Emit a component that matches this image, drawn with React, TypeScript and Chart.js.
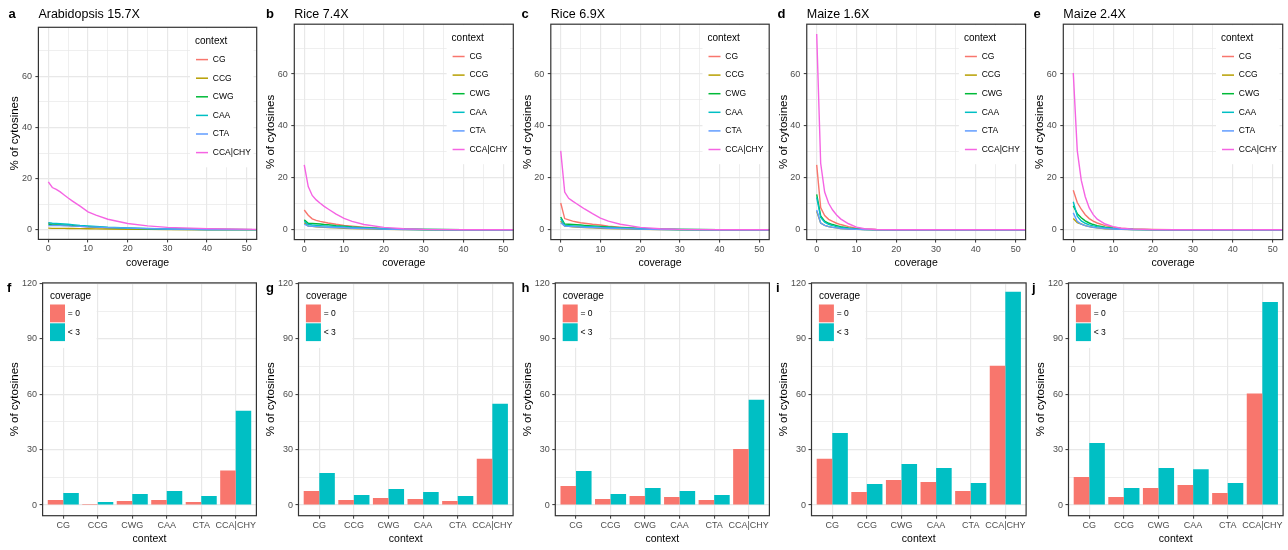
import React, { useEffect, useRef } from "react";
import { Chart, registerables } from "chart.js";

Chart.register(...registerables);

const FONT = '"Liberation Sans", Arial, Helvetica, sans-serif';

// Sequence contexts and their colours (ggplot default hue palette)
const contexts = ["CG", "CCG", "CWG", "CAA", "CTA", "CCA|CHY"];
const contextColors = ["#F8766D", "#B79F00", "#00BA38", "#00BFC4", "#619CFF", "#F564E3"];

// Bar groups
const coverageGroups = ["= 0", "< 3"];
const coverageColors = ["#F8766D", "#00BFC4"];

// Coverage values at which each curve is sampled
const coverage = [0, 1, 2, 3, 4, 5, 6, 8, 10, 12, 15, 20, 25, 30, 40, 55];

// Axis ticks
const coverageMajorTicks = [0, 10, 20, 30, 40, 50];
const coverageMinorTicks = [5, 15, 25, 35, 45];
const lineMajorTicks = [0, 20, 40, 60];
const lineMinorTicks = [10, 30, 50, 70];
const barMajorTicks = [0, 30, 60, 90, 120];
const barMinorTicks = [15, 45, 75, 105];

// a: Arabidopsis 15.7X — % of cytosines by coverage
const araCG = [2.7, 1.9, 1.9, 1.8, 1.7, 1.6, 1.5, 1.3, 1.1, 0.9, 0.7, 0.5, 0.3, 0.2, 0.1, 0];
const araCCG = [0.6, 0.5, 0.5, 0.5, 0.5, 0.45, 0.45, 0.4, 0.35, 0.3, 0.25, 0.2, 0.15, 0.1, 0.05, 0];
const araCWG = [2.2, 1.9, 1.9, 1.9, 1.8, 1.7, 1.6, 1.4, 1.2, 1.0, 0.8, 0.5, 0.35, 0.2, 0.1, 0];
const araCAA = [2.7, 2.5, 2.4, 2.3, 2.2, 2.1, 2.0, 1.7, 1.5, 1.3, 1.0, 0.7, 0.45, 0.3, 0.1, 0];
const araCTA = [1.6, 1.7, 1.6, 1.6, 1.5, 1.5, 1.4, 1.3, 1.1, 1.0, 0.8, 0.6, 0.4, 0.25, 0.1, 0];
const araCHY = [18.7, 16.5, 15.8, 14.8, 13.6, 12.4, 11.3, 9.2, 7.0, 5.7, 4.1, 2.4, 1.5, 0.9, 0.4, 0.05];

// b: Rice 7.4X
const rice74CG = [7.6, 5.6, 4.2, 3.6, 3.2, 2.9, 2.6, 2.1, 1.7, 1.4, 1.0, 0.5, 0.25, 0.1, 0.02, 0];
const rice74CCG = [2.7, 1.4, 1.3, 1.1, 1.0, 0.9, 0.8, 0.7, 0.6, 0.5, 0.35, 0.2, 0.1, 0.05, 0, 0];
const rice74CWG = [3.8, 2.5, 2.4, 2.3, 2.2, 2.0, 1.9, 1.6, 1.4, 1.1, 0.8, 0.4, 0.2, 0.1, 0, 0];
const rice74CAA = [3.3, 2.0, 1.8, 1.7, 1.6, 1.5, 1.4, 1.3, 1.1, 0.9, 0.7, 0.4, 0.2, 0.1, 0, 0];
const rice74CTA = [2.2, 1.4, 1.3, 1.2, 1.1, 1.0, 0.95, 0.85, 0.75, 0.6, 0.45, 0.25, 0.1, 0.05, 0, 0];
const rice74CHY = [25.0, 16.6, 13.2, 11.5, 10.2, 9.0, 8.0, 6.0, 4.4, 3.2, 2.0, 0.9, 0.4, 0.15, 0.02, 0];

// c: Rice 6.9X
const rice69CG = [10.3, 4.3, 3.8, 3.3, 3.0, 2.7, 2.5, 2.1, 1.8, 1.4, 1.0, 0.5, 0.25, 0.1, 0.02, 0];
const rice69CCG = [3.3, 1.4, 1.3, 1.1, 1.0, 0.9, 0.8, 0.7, 0.6, 0.5, 0.35, 0.2, 0.1, 0.05, 0, 0];
const rice69CWG = [4.9, 2.2, 2.1, 2.0, 1.9, 1.8, 1.7, 1.5, 1.3, 1.1, 0.8, 0.45, 0.2, 0.1, 0, 0];
const rice69CAA = [4.3, 1.7, 1.6, 1.5, 1.4, 1.4, 1.3, 1.2, 1.0, 0.9, 0.7, 0.4, 0.2, 0.1, 0, 0];
const rice69CTA = [2.7, 1.4, 1.3, 1.2, 1.1, 1.0, 0.95, 0.85, 0.75, 0.6, 0.45, 0.25, 0.1, 0.05, 0, 0];
const rice69CHY = [30.4, 14.5, 12.1, 11.0, 10.0, 9.0, 8.0, 6.2, 4.5, 3.3, 2.1, 0.9, 0.4, 0.15, 0.02, 0];

// d: Maize 1.6X
const maize16CG = [25.0, 8.5, 5.5, 4.0, 3.2, 2.5, 2.0, 1.2, 0.6, 0.3, 0.1, 0, 0, 0, 0, 0];
const maize16CCG = [7.1, 2.6, 1.7, 1.2, 0.9, 0.7, 0.5, 0.3, 0.15, 0.08, 0.02, 0, 0, 0, 0, 0];
const maize16CWG = [13.6, 5.3, 3.3, 2.5, 2.0, 1.6, 1.2, 0.7, 0.35, 0.15, 0.05, 0, 0, 0, 0, 0];
const maize16CAA = [12.5, 4.7, 2.9, 2.1, 1.6, 1.2, 0.9, 0.5, 0.25, 0.1, 0.03, 0, 0, 0, 0, 0];
const maize16CTA = [7.6, 2.6, 1.7, 1.2, 0.9, 0.7, 0.5, 0.3, 0.15, 0.08, 0.02, 0, 0, 0, 0, 0];
const maize16CHY = [75.4, 25.6, 14.5, 10.2, 7.6, 5.7, 4.2, 2.3, 1.0, 0.4, 0.1, 0, 0, 0, 0, 0];

// e: Maize 2.4X
const maize24CG = [15.2, 10.5, 7.9, 5.8, 4.3, 3.3, 2.6, 1.6, 1.0, 0.6, 0.3, 0.08, 0.02, 0, 0, 0];
const maize24CCG = [4.3, 2.7, 2.2, 1.6, 1.2, 0.9, 0.7, 0.4, 0.25, 0.15, 0.07, 0.02, 0, 0, 0, 0];
const maize24CWG = [9.2, 6.2, 4.6, 3.4, 2.6, 2.0, 1.6, 1.0, 0.6, 0.35, 0.15, 0.04, 0, 0, 0, 0];
const maize24CAA = [10.8, 5.2, 3.4, 2.5, 1.9, 1.5, 1.2, 0.8, 0.5, 0.3, 0.12, 0.03, 0, 0, 0, 0];
const maize24CTA = [6.5, 3.2, 2.2, 1.6, 1.2, 0.9, 0.7, 0.45, 0.3, 0.18, 0.08, 0.02, 0, 0, 0, 0];
const maize24CHY = [60.4, 30.5, 19.1, 12.7, 8.4, 5.8, 4.1, 2.2, 1.2, 0.6, 0.25, 0.05, 0.01, 0, 0, 0];

// f–j: % of cytosines with coverage = 0 and < 3, per context
const araZero = [2.7, 0.6, 2.2, 2.7, 1.6, 18.7];
const araBelow3 = [6.5, 1.6, 6.0, 7.6, 4.9, 51.0];
const rice74Zero = [7.6, 2.7, 3.8, 3.3, 2.2, 25.0];
const rice74Below3 = [17.4, 5.4, 8.7, 7.1, 4.9, 54.8];
const rice69Zero = [10.3, 3.3, 4.9, 4.3, 2.7, 30.4];
const rice69Below3 = [18.4, 6.0, 9.2, 7.6, 5.4, 57.0];
const maize16Zero = [25.0, 7.1, 13.6, 12.5, 7.6, 75.4];
const maize16Below3 = [39.0, 11.4, 22.2, 20.1, 11.9, 115.5];
const maize24Zero = [15.2, 4.3, 9.2, 10.8, 6.5, 60.4];
const maize24Below3 = [33.6, 9.2, 20.0, 19.4, 11.9, 110.0];

type Box = { x: number; y: number; w: number; h: number };
type Plot = { L: number; R: number; T: number; B: number };

type LinePanel = {
  kind: "line";
  letter: string;
  title: string;
  letterX: number;
  box: Box;
  plot: Plot;
  series: number[][];
};

type BarPanel = {
  kind: "bar";
  letter: string;
  letterX: number;
  box: Box;
  plot: Plot;
  zero: number[];
  below3: number[];
};

const linePanels: LinePanel[] = [
  {
    kind: "line", letter: "a", title: "Arabidopsis 15.7X", letterX: 8.5,
    box: { x: 4, y: 0, w: 254, h: 275 }, plot: { L: 38.4, R: 256.7, T: 27.3, B: 239.4 },
    series: [araCG, araCCG, araCWG, araCAA, araCTA, araCHY],
  },
  {
    kind: "line", letter: "b", title: "Rice 7.4X", letterX: 266,
    box: { x: 260, y: 0, w: 255, h: 275 }, plot: { L: 294.3, R: 513.3, T: 24.2, B: 239.6 },
    series: [rice74CG, rice74CCG, rice74CWG, rice74CAA, rice74CTA, rice74CHY],
  },
  {
    kind: "line", letter: "c", title: "Rice 6.9X", letterX: 521.5,
    box: { x: 517, y: 0, w: 254, h: 275 }, plot: { L: 550.8, R: 769.2, T: 24.2, B: 239.6 },
    series: [rice69CG, rice69CCG, rice69CWG, rice69CAA, rice69CTA, rice69CHY],
  },
  {
    kind: "line", letter: "d", title: "Maize 1.6X", letterX: 777.5,
    box: { x: 773, y: 0, w: 254, h: 275 }, plot: { L: 806.75, R: 1025.6, T: 24.2, B: 239.6 },
    series: [maize16CG, maize16CCG, maize16CWG, maize16CAA, maize16CTA, maize16CHY],
  },
  {
    kind: "line", letter: "e", title: "Maize 2.4X", letterX: 1033.5,
    box: { x: 1029, y: 0, w: 255, h: 275 }, plot: { L: 1063.3, R: 1282.7, T: 24.2, B: 239.6 },
    series: [maize24CG, maize24CCG, maize24CWG, maize24CAA, maize24CTA, maize24CHY],
  },
];

const barPanels: BarPanel[] = [
  {
    kind: "bar", letter: "f", letterX: 7,
    box: { x: 4, y: 275, w: 254, h: 275 }, plot: { L: 42.6, R: 256.4, T: 281.7, B: 515.7 },
    zero: araZero, below3: araBelow3,
  },
  {
    kind: "bar", letter: "g", letterX: 266,
    box: { x: 260, y: 275, w: 255, h: 275 }, plot: { L: 298.5, R: 513.1, T: 281.7, B: 515.7 },
    zero: rice74Zero, below3: rice74Below3,
  },
  {
    kind: "bar", letter: "h", letterX: 521.5,
    box: { x: 517, y: 275, w: 254, h: 275 }, plot: { L: 555.3, R: 769.4, T: 281.7, B: 515.7 },
    zero: rice69Zero, below3: rice69Below3,
  },
  {
    kind: "bar", letter: "i", letterX: 776,
    box: { x: 773, y: 275, w: 255, h: 275 }, plot: { L: 811.5, R: 1026.1, T: 281.7, B: 515.7 },
    zero: maize16Zero, below3: maize16Below3,
  },
  {
    kind: "bar", letter: "j", letterX: 1032,
    box: { x: 1029, y: 275, w: 256, h: 275 }, plot: { L: 1068.5, R: 1283.1, T: 281.7, B: 515.7 },
    zero: maize24Zero, below3: maize24Below3,
  },
];

// Panel border and the in-panel legends
const framePlugin = {
  id: "frame",
  afterDraw(chart: any, _args: any, opts: any) {
    const { ctx, chartArea: a } = chart;
    ctx.save();
    if (opts.kind === "line") {
      ctx.fillStyle = "#FFFFFF";
      ctx.fillRect(a.right - 66.7, a.top + 1, 63.5, 139);
      ctx.textBaseline = "middle";
      ctx.textAlign = "left";
      ctx.fillStyle = "#000000";
      ctx.font = `10px ${FONT}`;
      ctx.fillText("context", a.right - 61.7, a.top + 14);
      ctx.font = `8.5px ${FONT}`;
      contexts.forEach((label, i) => {
        const y = a.top + 32.3 + i * 18.6;
        ctx.strokeStyle = contextColors[i];
        ctx.lineWidth = 1.5;
        ctx.beginPath();
        ctx.moveTo(a.right - 60.7, y);
        ctx.lineTo(a.right - 48.7, y);
        ctx.stroke();
        ctx.fillStyle = "#000000";
        ctx.fillText(label, a.right - 43.9, y);
      });
    } else {
      ctx.fillStyle = "#FFFFFF";
      ctx.fillRect(a.left + 1, a.top + 1, 53, 64);
      ctx.textBaseline = "middle";
      ctx.textAlign = "left";
      ctx.fillStyle = "#000000";
      ctx.font = `10px ${FONT}`;
      ctx.fillText("coverage", a.left + 7.4, a.top + 13.3);
      ctx.font = `8.5px ${FONT}`;
      coverageGroups.forEach((label, i) => {
        const y = a.top + 21.6 + i * 18.8;
        ctx.fillStyle = coverageColors[i];
        ctx.fillRect(a.left + 7.4, y, 15, 17.8);
        ctx.fillStyle = "#000000";
        ctx.fillText(label, a.left + 25.2, y + 9.2);
      });
    }
    ctx.strokeStyle = "#333333";
    ctx.lineWidth = 1.2;
    ctx.strokeRect(a.left, a.top, a.right - a.left, a.bottom - a.top);
    ctx.restore();
  },
};

function gridStyle(major: number[]) {
  return {
    color: "#E8E8E8",
    lineWidth: (c: any) => (major.includes(c.tick?.value) ? 1.2 : 0.7),
    tickColor: (c: any) => (major.includes(c.tick?.value) ? "#333333" : "rgba(0,0,0,0)"),
    tickWidth: 1,
    tickLength: 3,
    drawTicks: true,
    offset: false,
  };
}

function tickList(major: number[], minor: number[]) {
  return [...major, ...minor].sort((p, q) => p - q);
}

function commonOptions(p: { box: Box; plot: Plot }, kind: string) {
  return {
    responsive: false,
    animation: false as const,
    events: [] as any[],
    layout: {
      autoPadding: false,
      padding: {
        left: 0,
        top: p.plot.T - p.box.y,
        right: p.box.x + p.box.w - p.plot.R,
        bottom: 0,
      },
    },
    plugins: {
      legend: { display: false },
      title: { display: false },
      tooltip: { enabled: false },
      frame: { kind },
    },
  };
}

function xAxis(p: { box: Box; plot: Plot }, opts: any) {
  const h = p.box.y + p.box.h - p.plot.B;
  return {
    type: "linear",
    offset: false,
    min: opts.min,
    max: opts.max,
    afterBuildTicks: (s: any) => {
      s.ticks = opts.ticks.map((v: number) => ({ value: v }));
    },
    afterFit: (s: any) => {
      s.height = h;
    },
    grid: gridStyle(opts.major),
    border: { display: false },
    ticks: {
      autoSkip: false,
      maxRotation: 0,
      minRotation: 0,
      padding: opts.tickPad,
      color: "#4D4D4D",
      font: { family: FONT, size: 9 },
      callback: opts.label,
    },
    title: {
      display: true,
      text: opts.title,
      color: "#000000",
      font: { family: FONT, size: 10.5 },
      padding: { top: 0, bottom: opts.titlePad },
    },
  };
}

function yAxis(p: { box: Box; plot: Plot }, opts: any) {
  const w = p.plot.L - p.box.x;
  const lineHeight = 11.5 * 1.2;
  return {
    type: "linear",
    min: opts.min,
    max: opts.max,
    afterBuildTicks: (s: any) => {
      s.ticks = opts.ticks.map((v: number) => ({ value: v }));
    },
    afterFit: (s: any) => {
      s.width = w;
    },
    grid: gridStyle(opts.major),
    border: { display: false },
    ticks: {
      autoSkip: false,
      padding: opts.tickPad,
      color: "#4D4D4D",
      font: { family: FONT, size: 9 },
      callback: (v: number) => (opts.major.includes(v) ? String(v) : ""),
    },
    title: {
      display: true,
      text: "% of cytosines",
      color: "#000000",
      font: { family: FONT, size: 11.5 },
      padding: { top: w - opts.titleGap - lineHeight / 2, bottom: 0 },
    },
  };
}

function lineConfig(p: LinePanel): any {
  return {
    type: "line",
    data: {
      datasets: p.series.map((s, i) => ({
        label: contexts[i],
        data: coverage.map((x, k) => ({ x, y: s[k] })),
        borderColor: contextColors[i],
        backgroundColor: contextColors[i],
        borderWidth: 1.4,
        pointRadius: 0,
        pointHoverRadius: 0,
        tension: 0,
        fill: false,
        order: contexts.length - 1 - i,
      })),
    },
    options: {
      ...commonOptions(p, "line"),
      scales: {
        x: xAxis(p, {
          min: -2.5,
          max: 52.5,
          ticks: tickList(coverageMajorTicks, coverageMinorTicks),
          major: coverageMajorTicks,
          tickPad: 1.2,
          title: "coverage",
          titlePad: 6,
          label: (v: number) => (coverageMajorTicks.includes(v) ? String(v) : ""),
        }),
        y: yAxis(p, {
          min: -3.8,
          max: 79.2,
          ticks: tickList(lineMajorTicks, lineMinorTicks),
          major: lineMajorTicks,
          tickPad: 3.5,
          titleGap: 23.3,
        }),
      },
    },
    plugins: [framePlugin],
  };
}

function barConfig(p: BarPanel): any {
  const positions = contexts.map((_, i) => i);
  return {
    type: "bar",
    data: {
      datasets: [p.zero, p.below3].map((vals, g) => ({
        label: coverageGroups[g],
        data: vals.map((y, i) => ({ x: positions[i], y })),
        backgroundColor: coverageColors[g],
        borderWidth: 0,
        categoryPercentage: 0.9,
        barPercentage: 1.0,
      })),
    },
    options: {
      ...commonOptions(p, "bar"),
      scales: {
        x: xAxis(p, {
          min: -0.6,
          max: 5.6,
          ticks: positions,
          major: positions,
          tickPad: 1.4,
          title: "context",
          titlePad: 5,
          label: (v: number) => contexts[v] ?? "",
        }),
        y: yAxis(p, {
          min: -5.78,
          max: 120.3,
          ticks: tickList(barMajorTicks, barMinorTicks),
          major: barMajorTicks,
          tickPad: 2.5,
          titleGap: 27.5,
        }),
      },
    },
    plugins: [framePlugin],
  };
}

function PanelChart({ panel }: { panel: LinePanel | BarPanel }) {
  const ref = useRef<HTMLCanvasElement>(null);
  useEffect(() => {
    if (!ref.current) return;
    const config = panel.kind === "line" ? lineConfig(panel) : barConfig(panel);
    const chart = new Chart(ref.current, config);
    return () => chart.destroy();
  }, [panel]);
  const { x, y, w, h } = panel.box;
  return (
    <canvas
      ref={ref}
      width={w}
      height={h}
      style={{ position: "absolute", left: x, top: y, width: w, height: h }}
    />
  );
}

export default function App() {
  const panels: (LinePanel | BarPanel)[] = [...linePanels, ...barPanels];
  return (
    <div
      style={{
        position: "absolute",
        left: 0,
        top: 0,
        width: 1288,
        height: 550,
        background: "#FFFFFF",
        fontFamily: FONT,
        overflow: "hidden",
      }}
    >
      {panels.map((p) => (
        <PanelChart key={p.letter} panel={p} />
      ))}
      {panels.map((p) => (
        <div
          key={`letter-${p.letter}`}
          style={{
            position: "absolute",
            left: p.letterX,
            top: p.kind === "line" ? 7.4 : 281,
            fontSize: 13,
            lineHeight: "13px",
            fontWeight: "bold",
            color: "#000000",
            whiteSpace: "nowrap",
          }}
        >
          {p.letter}
        </div>
      ))}
      {linePanels.map((p) => (
        <div
          key={`title-${p.letter}`}
          style={{
            position: "absolute",
            left: p.plot.L,
            top: 7.7,
            fontSize: 12.5,
            lineHeight: "12.5px",
            color: "#000000",
            whiteSpace: "nowrap",
          }}
        >
          {p.title}
        </div>
      ))}
    </div>
  );
}
